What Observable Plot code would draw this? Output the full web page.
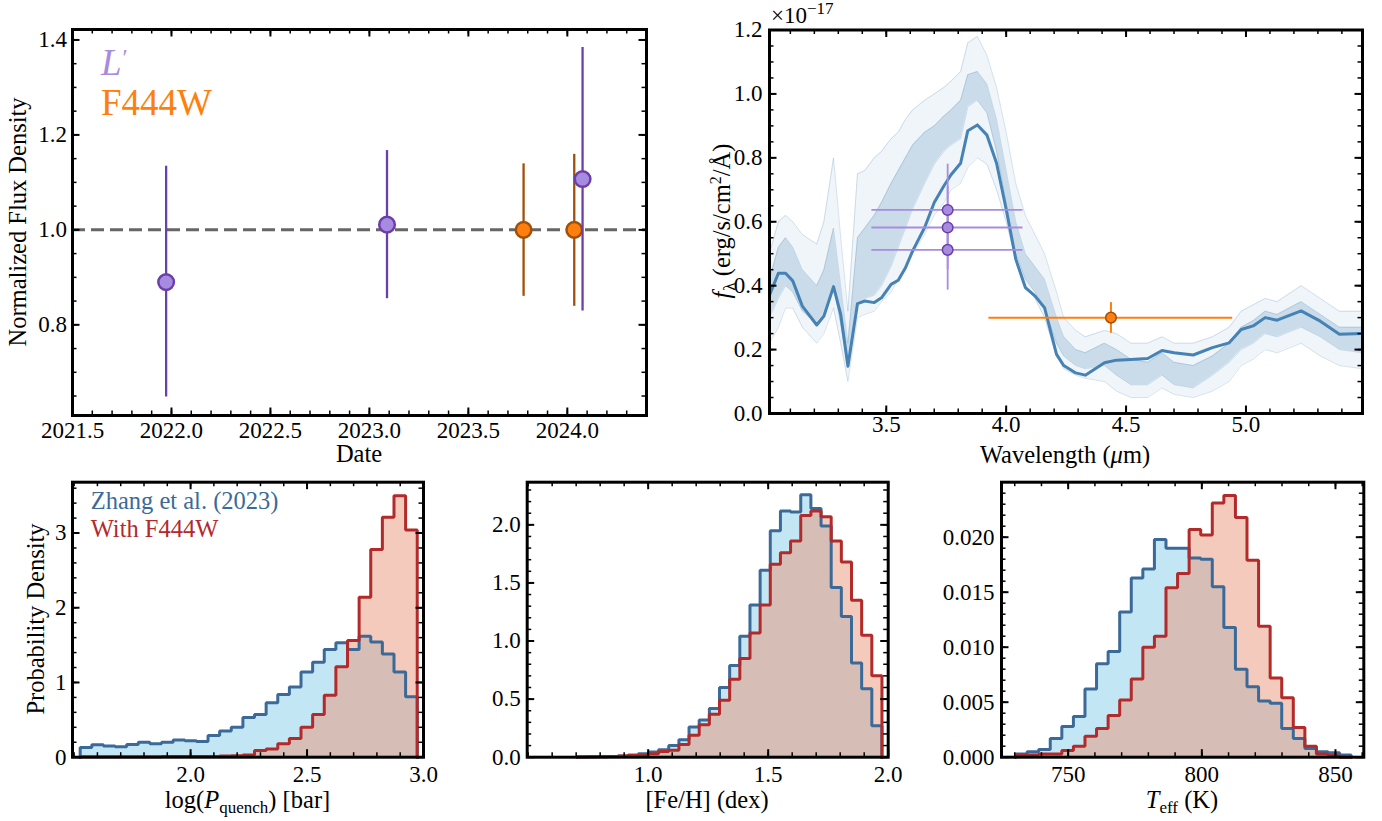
<!DOCTYPE html>
<html><head><meta charset="utf-8">
<script src="https://cdn.jsdelivr.net/npm/d3@7"></script>
<script src="https://cdn.jsdelivr.net/npm/@observablehq/plot@0.6"></script>
<style>
body{margin:0;background:#fff}
#fig{position:relative;width:1382px;height:821px;background:#fff;overflow:hidden}
#fig svg{position:absolute}
#fig svg, #fig svg text, #fig svg tspan{font-family:'Liberation Serif',serif !important}
</style>
</head><body><div id="fig"></div>
<script>
// ---------------- DATA ----------------
// Panel 1: light curve
const lpDates = [2021.973, 2023.089, 2024.077];
const lpFlux  = [0.890, 1.011, 1.107];
const lpLo    = [0.648, 0.855, 0.829];
const lpHi    = [1.134, 1.167, 1.384];
const f444Dates = [2023.779, 2024.035];
const f444Flux  = [1.000, 1.000];
const f444Lo    = [0.860, 0.839];
const f444Hi    = [1.139, 1.159];
const refLevel = 1.0;
const p1XTicks = [2021.5, 2022.0, 2022.5, 2023.0, 2023.5, 2024.0];
const p1YTicks = [0.8, 1.0, 1.2, 1.4];

// Panel 2: spectrum (units of 1e-17)
const specWave = [3.013,3.05,3.08,3.11,3.15,3.21,3.24,3.28,3.31,3.34,3.38,3.41,3.45,3.48,3.52,3.55,3.58,3.61,3.66,3.70,3.74,3.77,3.81,3.84,3.88,3.92,3.96,4.00,4.04,4.08,4.12,4.16,4.21,4.24,4.29,4.33,4.41,4.46,4.52,4.59,4.65,4.70,4.78,4.86,4.93,4.98,5.03,5.08,5.13,5.23,5.31,5.39,5.486];
const specBest = [0.37,0.439,0.439,0.415,0.336,0.277,0.305,0.397,0.310,0.148,0.344,0.352,0.347,0.362,0.404,0.417,0.456,0.509,0.582,0.660,0.712,0.747,0.783,0.885,0.903,0.871,0.783,0.639,0.483,0.394,0.368,0.331,0.185,0.150,0.127,0.120,0.159,0.167,0.169,0.172,0.197,0.190,0.183,0.206,0.221,0.263,0.274,0.300,0.292,0.321,0.289,0.248,0.250];
const specOuterHi = [0.50,0.60,0.62,0.60,0.56,0.53,0.60,0.80,0.55,0.32,0.75,0.76,0.80,0.82,0.86,0.88,0.92,0.95,0.98,1.00,1.02,1.04,1.07,1.16,1.18,1.12,1.02,0.88,0.72,0.62,0.56,0.50,0.38,0.30,0.26,0.24,0.26,0.25,0.22,0.22,0.24,0.22,0.22,0.24,0.27,0.32,0.34,0.36,0.35,0.40,0.36,0.32,0.32];
const specDenseHi = [0.42,0.52,0.55,0.52,0.45,0.40,0.45,0.58,0.40,0.22,0.55,0.58,0.62,0.66,0.72,0.76,0.80,0.84,0.88,0.90,0.93,0.95,0.98,1.06,1.07,1.03,0.92,0.76,0.60,0.50,0.46,0.42,0.30,0.24,0.20,0.19,0.22,0.20,0.17,0.16,0.19,0.16,0.15,0.18,0.22,0.27,0.29,0.32,0.31,0.35,0.31,0.27,0.27];
const specDenseLo = [0.30,0.36,0.40,0.38,0.32,0.28,0.32,0.40,0.28,0.15,0.35,0.36,0.37,0.40,0.46,0.52,0.58,0.64,0.72,0.78,0.82,0.84,0.86,0.96,0.98,0.94,0.82,0.66,0.50,0.42,0.38,0.33,0.22,0.18,0.15,0.14,0.15,0.12,0.09,0.09,0.12,0.09,0.08,0.12,0.16,0.20,0.22,0.25,0.24,0.27,0.24,0.20,0.19];
const specOuterLo = [0.22,0.27,0.33,0.33,0.27,0.22,0.25,0.33,0.22,0.10,0.30,0.31,0.32,0.35,0.38,0.42,0.45,0.50,0.56,0.62,0.66,0.70,0.72,0.77,0.80,0.78,0.70,0.60,0.48,0.40,0.36,0.30,0.18,0.14,0.12,0.11,0.10,0.07,0.05,0.05,0.08,0.06,0.05,0.07,0.10,0.15,0.17,0.20,0.19,0.22,0.18,0.15,0.14];
const lpSpecWave = [3.756, 3.756, 3.756];
const lpSpecWaveLo = [3.44, 3.44, 3.44];
const lpSpecWaveHi = [4.07, 4.07, 4.07];
const lpSpecFlux = [0.637, 0.582, 0.512];
const lpSpecFluxLo = [0.497, 0.450, 0.386];
const lpSpecFluxHi = [0.780, 0.710, 0.640];
const f444SpecWave = [4.437];
const f444SpecWaveLo = [3.928];
const f444SpecWaveHi = [4.945];
const f444SpecFlux = [0.300];
const f444SpecFluxLo = [0.251];
const f444SpecFluxHi = [0.347];
const p2XTicks = [3.5, 4.0, 4.5, 5.0];
const p2YTicks = [0.0, 0.2, 0.4, 0.6, 0.8, 1.0, 1.2];

// Panel 3: log(P_quench) histograms
const pqEdges = [1.526,1.5759,1.6258,1.6757,1.7256,1.7755,1.8254,1.8753,1.9252,1.9751,2.025,2.0749,2.1248,2.1747,2.2246,2.2745,2.3244,2.3743,2.4242,2.4741,2.524,2.5739,2.6238,2.6737,2.7236,2.7735,2.8234,2.8733,2.9232,2.9731];
const pqZhang = [0.13,0.165,0.15,0.14,0.17,0.20,0.18,0.20,0.23,0.22,0.21,0.29,0.35,0.40,0.53,0.57,0.73,0.84,0.94,1.14,1.27,1.44,1.53,1.44,1.62,1.54,1.38,1.14,0.81];
const pqF444 = [0.005,0.005,0.005,0.005,0.005,0.005,0.005,0.008,0.008,0.01,0.01,0.01,0.015,0.02,0.03,0.09,0.11,0.18,0.25,0.40,0.57,0.83,1.21,1.56,2.14,2.78,3.21,3.50,3.04];
const p3XTicks = [2.0, 2.5, 3.0];
const p3YTicks = [0, 1, 2, 3];

// Panel 4: [Fe/H] histograms
const fehEdges = [0.705,0.7473,0.7896,0.8319,0.8742,0.9165,0.9588,1.0011,1.0434,1.0857,1.128,1.1703,1.2126,1.2549,1.2972,1.3395,1.3818,1.4241,1.4664,1.5087,1.551,1.5933,1.6356,1.6779,1.7202,1.7625,1.8048,1.8471,1.8894,1.9317,1.974];
const fehZhang = [0.003,0.004,0.005,0.007,0.01,0.02,0.03,0.045,0.065,0.10,0.15,0.26,0.32,0.42,0.60,0.79,1.04,1.31,1.61,1.95,2.12,2.11,2.26,2.14,1.99,1.46,1.21,0.81,0.59,0.27];
const fehF444 = [0.002,0.003,0.004,0.006,0.01,0.015,0.02,0.03,0.05,0.06,0.11,0.19,0.28,0.37,0.49,0.67,0.85,1.07,1.31,1.66,1.76,1.86,2.08,2.12,2.07,1.86,1.68,1.35,1.05,0.70];
const p4XTicks = [1.0, 1.5, 2.0];
const p4YTicks = [0.0, 0.5, 1.0, 1.5, 2.0];

// Panel 5: Teff histograms
const teffEdges = [730.3,734.63,738.96,743.29,747.62,751.95,756.28,760.61,764.94,769.27,773.6,777.93,782.26,786.59,790.92,795.25,799.58,803.91,808.24,812.57,816.9,821.23,825.56,829.89,834.22,838.55,842.88,847.21,851.54,855.87];
const teffZhang = [0.0003,0.0005,0.0007,0.0017,0.0028,0.0037,0.0062,0.0085,0.0096,0.0132,0.0163,0.0171,0.0198,0.0190,0.0190,0.0181,0.0180,0.0155,0.0118,0.0080,0.0064,0.0051,0.0049,0.0026,0.0017,0.0008,0.0005,0.0004,0.0002];
const teffF444 = [0.0002,0.0002,0.0003,0.0003,0.0006,0.0010,0.0019,0.0026,0.0038,0.0052,0.0071,0.0100,0.0110,0.0154,0.0167,0.0207,0.0202,0.0231,0.0238,0.0218,0.0179,0.0119,0.0072,0.0054,0.0027,0.0010,0.0003,0.00015,0];
const p5XTicks = [750, 800, 850];
const p5YTicks = [0.000, 0.005, 0.010, 0.015, 0.020];

// ---------------- STYLE / LAYOUT ----------------
const FONT = "'Liberation Serif', serif";
const LP_FILL = "#a78be0", LP_EDGE = "#6b3fa8";
const F4_FILL = "#ff7f0e", F4_EDGE = "#a0500a";
const BLUE_LINE = "#3b6a98", RED_LINE = "#b22a2a";
const fig = document.getElementById("fig");

function layout(box, frame) {
  const [bx, by, bw, bh] = box, [l, r, t, b] = frame;
  return {width: bw, height: bh, marginLeft: l - bx, marginRight: bx + bw - r,
          marginTop: t - by, marginBottom: by + bh - b, fw: r - l, fh: b - t};
}
function minor(lo, hi, step) {
  const out = [];
  for (let i = Math.ceil(lo / step - 1e-9); i * step <= hi + 1e-9; i++) {
    const v = +(i * step).toFixed(8);
    if (v > lo + 1e-9 && v < hi - 1e-9) out.push(v);
  }
  return out;
}
function frameTicks(xMaj, xMin, yMaj, yMin, fw, fh) {
  const M = 7.5, m = 4.5;
  return [
    Plot.tickX(xMaj, {x: d => d, insetTop: fh - M, strokeWidth: 2}),
    Plot.tickX(xMaj, {x: d => d, insetBottom: fh - M, strokeWidth: 2}),
    Plot.tickX(xMin, {x: d => d, insetTop: fh - m, strokeWidth: 1.5}),
    Plot.tickX(xMin, {x: d => d, insetBottom: fh - m, strokeWidth: 1.5}),
    Plot.tickY(yMaj, {y: d => d, insetRight: fw - M, strokeWidth: 2}),
    Plot.tickY(yMaj, {y: d => d, insetLeft: fw - M, strokeWidth: 2}),
    Plot.tickY(yMin, {y: d => d, insetRight: fw - m, strokeWidth: 1.5}),
    Plot.tickY(yMin, {y: d => d, insetLeft: fw - m, strokeWidth: 1.5})
  ];
}
const baseStyle = {fontFamily: FONT, fontSize: "23px", color: "#000", background: "transparent", overflow: "visible"};
function place(svg, box) {
  svg.style.left = box[0] + "px"; svg.style.top = box[1] + "px";
  fig.appendChild(svg);
  return svg;
}
// parts: strings or {t, it (italic), fs (font size), sub / sup (shift in px, undone afterwards), dx}
function label(svg, box, gx, gy, parts, o = {}) {
  const t = d3.select(svg).append("text")
    .attr("transform", `translate(${gx - box[0]},${gy - box[1]})` + (o.rotate ? ` rotate(${o.rotate})` : ""))
    .attr("text-anchor", o.anchor || "middle")
    .attr("fill", o.fill || "#000")
    .style("font-size", (o.size || 24.5) + "px");
  let carry = 0;
  for (const p of (typeof parts === "string" ? [parts] : parts)) {
    const q = typeof p === "string" ? {t: p} : p;
    const s = t.append("tspan").text(q.t);
    const shift = q.sub ? q.sub : q.sup ? -q.sup : 0;
    const dy = carry + shift;
    if (dy) s.attr("dy", dy);
    carry = -shift;
    if (q.dx) s.attr("dx", q.dx);
    if (q.it) s.style("font-style", "italic");
    if (q.fs) s.style("font-size", q.fs + "px");
  }
}
function histPoints(edges, vals) {
  const n = vals.length;
  const pts = [{x: edges[0], y: 0}];
  vals.forEach((v, i) => pts.push({x: edges[i], y: v}));
  pts.push({x: edges[n], y: vals[n - 1]});
  pts.push({x: edges[n], y: 0});
  return pts;
}
function histMarks(edges, blue, red) {
  const b = histPoints(edges, blue), r = histPoints(edges, red);
  return [
    Plot.areaY(b, {x: "x", y: "y", curve: "step-after", fill: "skyblue", fillOpacity: 0.5}),
    Plot.areaY(r, {x: "x", y: "y", curve: "step-after", fill: "darksalmon", fillOpacity: 0.5}),
    Plot.lineY(b, {x: "x", y: "y", curve: "step-after", stroke: BLUE_LINE, strokeWidth: 3, strokeLinejoin: "miter"}),
    Plot.lineY(r, {x: "x", y: "y", curve: "step-after", stroke: RED_LINE, strokeWidth: 3, strokeLinejoin: "miter"})
  ];
}

// ---------------- PANEL 1 ----------------
{
  const box = [0, 0, 690, 470];
  const L = layout(box, [72, 646, 29, 415]);
  const xd = [2021.5, 2024.4], yd = [0.609, 1.422];
  const lp = lpDates.map((d, i) => ({d, f: lpFlux[i], lo: lpLo[i], hi: lpHi[i]}));
  const f4 = f444Dates.map((d, i) => ({d, f: f444Flux[i], lo: f444Lo[i], hi: f444Hi[i]}));
  const svg = Plot.plot({
    width: L.width, height: L.height, marginLeft: L.marginLeft, marginRight: L.marginRight,
    marginTop: L.marginTop, marginBottom: L.marginBottom, style: baseStyle,
    x: {domain: xd, ticks: p1XTicks, tickSize: 0, tickPadding: 6, tickFormat: d => d.toFixed(1), label: null},
    y: {domain: yd, ticks: p1YTicks, tickSize: 0, tickPadding: 5.5, tickFormat: d => d.toFixed(1), label: null},
    marks: [
      Plot.ruleY([refLevel], {stroke: "#666", strokeWidth: 3, strokeDasharray: "13,6"}),
      Plot.ruleX(f4, {x: "d", y1: "lo", y2: "hi", stroke: F4_EDGE, strokeWidth: 2.3}),
      Plot.dot(f4, {x: "d", y: "f", r: 7.8, fill: F4_FILL, stroke: F4_EDGE, strokeWidth: 2.5}),
      Plot.ruleX(lp, {x: "d", y1: "lo", y2: "hi", stroke: LP_EDGE, strokeWidth: 2.3}),
      Plot.dot(lp, {x: "d", y: "f", r: 7.8, fill: LP_FILL, stroke: LP_EDGE, strokeWidth: 2.5}),
      ...frameTicks(p1XTicks, minor(xd[0], xd[1], 0.1), p1YTicks, minor(yd[0], yd[1], 0.05), L.fw, L.fh),
      Plot.frame({stroke: "#000", strokeWidth: 3})
    ]
  });
  place(svg, box);
  label(svg, box, 359, 462, "Date");
  label(svg, box, 26, 222, "Normalized Flux Density", {rotate: -90});
  label(svg, box, 101, 75, [{t: "L", it: true}, {t: "′", fs: 24, sup: 10, dx: 1}], {anchor: "start", size: 37, fill: LP_FILL});
  label(svg, box, 101, 115, "F444W", {anchor: "start", size: 37, fill: F4_FILL});
}

// ---------------- PANEL 2 ----------------
{
  const box = [690, 0, 692, 470];
  const L = layout(box, [769, 1362, 29.5, 413]);
  const xd = [3.013, 5.486], yd = [0, 1.2];
  const spec = specWave.map((w, i) => ({w, best: specBest[i], oh: specOuterHi[i], dh: specDenseHi[i], dl: specDenseLo[i], ol: specOuterLo[i]}));
  const lps = lpSpecWave.map((w, i) => ({w, wl: lpSpecWaveLo[i], wh: lpSpecWaveHi[i], f: lpSpecFlux[i], fl: lpSpecFluxLo[i], fh: lpSpecFluxHi[i]}));
  const f4s = f444SpecWave.map((w, i) => ({w, wl: f444SpecWaveLo[i], wh: f444SpecWaveHi[i], f: f444SpecFlux[i], fl: f444SpecFluxLo[i], fh: f444SpecFluxHi[i]}));
  const thin = {stroke: "#4682b4", strokeOpacity: 0.25, strokeWidth: 0.9, clip: true};
  const svg = Plot.plot({
    width: L.width, height: L.height, marginLeft: L.marginLeft, marginRight: L.marginRight,
    marginTop: L.marginTop, marginBottom: L.marginBottom, style: baseStyle,
    x: {domain: xd, ticks: p2XTicks, tickSize: 0, tickPadding: 2, tickFormat: d => d.toFixed(1), label: null},
    y: {domain: yd, ticks: p2YTicks, tickSize: 0, tickPadding: 7, tickFormat: d => d.toFixed(1), label: null},
    marks: [
      Plot.areaY(spec, {x: "w", y1: "ol", y2: "oh", fill: "#4682b4", fillOpacity: 0.08, clip: true}),
      Plot.areaY(spec, {x: "w", y1: "dl", y2: "dh", fill: "#4682b4", fillOpacity: 0.22, clip: true}),
      Plot.lineY(spec, {x: "w", y: "oh", ...thin}),
      Plot.lineY(spec, {x: "w", y: "dh", ...thin}),
      Plot.lineY(spec, {x: "w", y: "dl", ...thin}),
      Plot.lineY(spec, {x: "w", y: "ol", ...thin}),
      Plot.lineY(spec, {x: "w", y: "best", stroke: "#4682b4", strokeWidth: 3, clip: true}),
      Plot.ruleY(lps, {y: "f", x1: "wl", x2: "wh", stroke: "#a98be0", strokeWidth: 1.8}),
      Plot.ruleX(lps, {x: "w", y1: "fl", y2: "fh", stroke: "#a98be0", strokeWidth: 1.8}),
      Plot.dot(lps, {x: "w", y: "f", r: 5.3, fill: LP_FILL, stroke: LP_EDGE, strokeWidth: 1.5}),
      Plot.ruleY(f4s, {y: "f", x1: "wl", x2: "wh", stroke: F4_FILL, strokeWidth: 2}),
      Plot.ruleX(f4s, {x: "w", y1: "fl", y2: "fh", stroke: F4_FILL, strokeWidth: 2}),
      Plot.dot(f4s, {x: "w", y: "f", r: 5.3, fill: F4_FILL, stroke: F4_EDGE, strokeWidth: 1.5}),
      ...frameTicks(p2XTicks, minor(xd[0], xd[1], 0.1), p2YTicks, minor(yd[0], yd[1], 0.05), L.fw, L.fh),
      Plot.frame({stroke: "#000", strokeWidth: 3})
    ]
  });
  place(svg, box);
  label(svg, box, 1065, 463, [{t: "Wavelength ("}, {t: "μ", it: true}, {t: "m)"}]);
  label(svg, box, 730, 221, [{t: "f", it: true}, {t: "λ", fs: 17, sub: 5, dx: 1}, {t: " (erg/s/cm"}, {t: "2", fs: 16, sup: 9}, {t: "/Å)"}], {rotate: -90});
  label(svg, box, 771, 23, [{t: "×10"}, {t: "−17", fs: 17, sup: 9}], {anchor: "start", size: 23});
}

// ---------------- PANEL 3 ----------------
{
  const box = [0, 470, 460, 351];
  const L = layout(box, [72, 423, 481.7, 756.7]);
  const xd = [1.493, 3.0], yd = [0, 3.68];
  const svg = Plot.plot({
    width: L.width, height: L.height, marginLeft: L.marginLeft, marginRight: L.marginRight,
    marginTop: L.marginTop, marginBottom: L.marginBottom, style: baseStyle,
    x: {domain: xd, ticks: p3XTicks, tickSize: 0, tickPadding: 8.5, tickFormat: d => d.toFixed(1), label: null},
    y: {domain: yd, ticks: p3YTicks, tickSize: 0, tickPadding: 6, tickFormat: d => String(d), label: null},
    marks: [
      ...histMarks(pqEdges, pqZhang, pqF444),
      ...frameTicks(p3XTicks, minor(xd[0], xd[1], 0.1), p3YTicks, minor(yd[0], yd[1], 0.2), L.fw, L.fh),
      Plot.frame({stroke: "#000", strokeWidth: 3})
    ]
  });
  place(svg, box);
  label(svg, box, 247.5, 808, [{t: "log("}, {t: "P", it: true}, {t: "quench", fs: 17, sub: 5}, {t: ") [bar]"}]);
  label(svg, box, 44, 619, "Probability Density", {rotate: -90});
  label(svg, box, 90.7, 509, "Zhang et al. (2023)", {anchor: "start", fill: BLUE_LINE});
  label(svg, box, 90.7, 537, "With F444W", {anchor: "start", fill: RED_LINE});
}

// ---------------- PANEL 4 ----------------
{
  const box = [460, 470, 460, 351];
  const L = layout(box, [526.7, 887.7, 481.7, 756.7]);
  const xd = [0.496, 2.0], yd = [0, 2.367];
  const svg = Plot.plot({
    width: L.width, height: L.height, marginLeft: L.marginLeft, marginRight: L.marginRight,
    marginTop: L.marginTop, marginBottom: L.marginBottom, style: baseStyle,
    x: {domain: xd, ticks: p4XTicks, tickSize: 0, tickPadding: 8.5, tickFormat: d => d.toFixed(1), label: null},
    y: {domain: yd, ticks: p4YTicks, tickSize: 0, tickPadding: 6.5, tickFormat: d => d.toFixed(1), label: null},
    marks: [
      ...histMarks(fehEdges, fehZhang, fehF444),
      ...frameTicks(p4XTicks, minor(xd[0], xd[1], 0.1), p4YTicks, minor(yd[0], yd[1], 0.1), L.fw, L.fh),
      Plot.frame({stroke: "#000", strokeWidth: 3})
    ]
  });
  place(svg, box);
  label(svg, box, 707, 808, "[Fe/H] (dex)");
}

// ---------------- PANEL 5 ----------------
{
  const box = [920, 470, 462, 351];
  const L = layout(box, [1001, 1363.3, 481.7, 756.7]);
  const xd = [725.05, 860.6], yd = [0, 0.025];
  const svg = Plot.plot({
    width: L.width, height: L.height, marginLeft: L.marginLeft, marginRight: L.marginRight,
    marginTop: L.marginTop, marginBottom: L.marginBottom, style: baseStyle,
    x: {domain: xd, ticks: p5XTicks, tickSize: 0, tickPadding: 8.5, tickFormat: d => String(d), label: null},
    y: {domain: yd, ticks: p5YTicks, tickSize: 0, tickPadding: 7, tickFormat: d => d.toFixed(3), label: null},
    marks: [
      ...histMarks(teffEdges, teffZhang, teffF444),
      ...frameTicks(p5XTicks, minor(xd[0], xd[1], 10), p5YTicks, minor(yd[0], yd[1], 0.001), L.fw, L.fh),
      Plot.frame({stroke: "#000", strokeWidth: 3})
    ]
  });
  place(svg, box);
  label(svg, box, 1182, 808, [{t: "T", it: true}, {t: "eff", fs: 17, sub: 5}, {t: " (K)"}]);
}
</script></body></html>
